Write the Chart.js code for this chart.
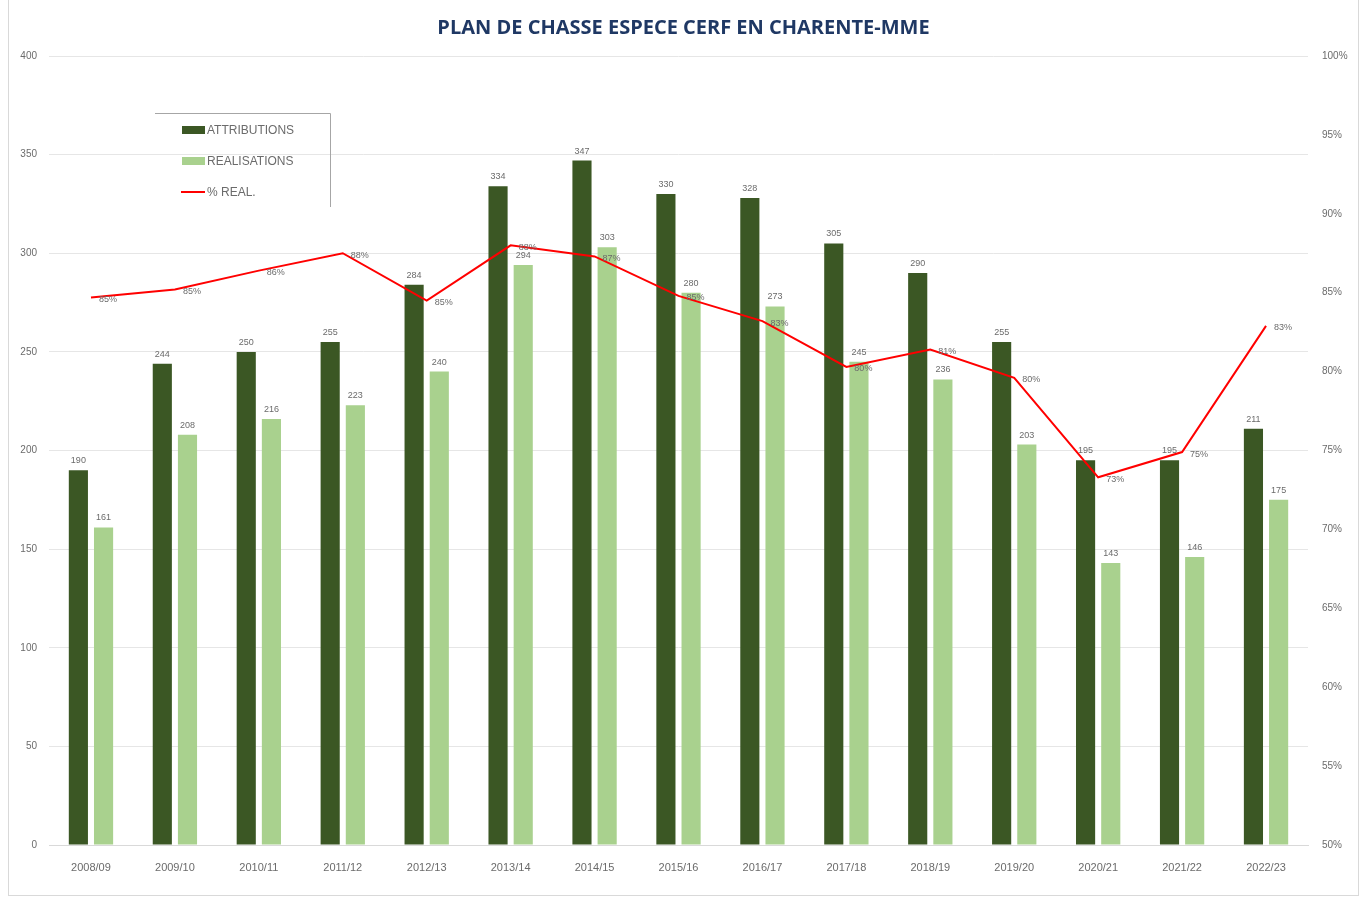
<!DOCTYPE html>
<html>
<head>
<meta charset="utf-8">
<script src="https://cdn.jsdelivr.net/npm/chart.js@4.4.1/dist/chart.umd.min.js"></script>
<style>
  body { margin: 0; background: #fff; }
  #wrap { position: relative; width: 1367px; height: 897px; }
  #frame { position: absolute; left: 8px; top: -1px; width: 1349px; height: 895px; border: 1px solid #d9d9d9; pointer-events: none; }
</style>
</head>
<body>
<div id="wrap">
  <canvas id="cerfChart" width="1367" height="897"></canvas>
  <div id="frame"></div>
</div>
<script>
/* ---------- Plan de chasse cerf, Charente-Maritime ---------- */

var saisons = ["2008/09", "2009/10", "2010/11", "2011/12", "2012/13", "2013/14", "2014/15", "2015/16",
               "2016/17", "2017/18", "2018/19", "2019/20", "2020/21", "2021/22", "2022/23"];

var attributions = [190, 244, 250, 255, 284, 334, 347, 330, 328, 305, 290, 255, 195, 195, 211];
var realisations = [161, 208, 216, 223, 240, 294, 303, 280, 273, 245, 236, 203, 143, 146, 175];
var pctReal = [84.7, 85.2, 86.4, 87.5, 84.5, 88.0, 87.3, 84.8, 83.2, 80.3, 81.4, 79.6, 73.3, 74.9, 82.9];

var grisTexte = "#6b6b6b";

// labels above the bars and next to the line points
var valueLabels = {
  id: "valueLabels",
  afterDatasetsDraw: function(chart) {
    var ctx = chart.ctx;
    ctx.save();
    ctx.font = "9px 'Liberation Sans', Arial, sans-serif";
    ctx.fillStyle = grisTexte;
    chart.data.datasets.forEach(function(ds, i) {
      var meta = chart.getDatasetMeta(i);
      meta.data.forEach(function(el, j) {
        var v = ds.data[j];
        if (ds.type === "line") {
          ctx.textAlign = "left";
          ctx.textBaseline = "middle";
          ctx.fillText(Math.round(v) + "%", el.x + 8, el.y + 2);
        } else {
          ctx.textAlign = "center";
          ctx.textBaseline = "bottom";
          ctx.fillText(v, el.x, el.y - 5);
        }
      });
    });
    ctx.restore();
  }
};

// legend box drawn inside the plot, top left
var legendBox = {
  id: "legendBox",
  afterDraw: function(chart) {
    var ctx = chart.ctx;
    ctx.save();
    ctx.strokeStyle = "#a6a6a6";
    ctx.lineWidth = 1;
    ctx.beginPath();
    ctx.moveTo(155, 113.5);
    ctx.lineTo(330.5, 113.5);
    ctx.lineTo(330.5, 207);
    ctx.stroke();
    ctx.font = "12px 'Liberation Sans', Arial, sans-serif";
    ctx.textBaseline = "middle";
    ctx.textAlign = "left";
    var ys = [130, 161, 192];
    chart.data.datasets.forEach(function(ds, i) {
      var y = ys[i];
      if (ds.type === "line") {
        ctx.strokeStyle = ds.borderColor;
        ctx.lineWidth = 2;
        ctx.beginPath();
        ctx.moveTo(181, y);
        ctx.lineTo(205, y);
        ctx.stroke();
      } else {
        ctx.fillStyle = ds.backgroundColor;
        ctx.fillRect(182, y - 4, 23, 8);
      }
      ctx.fillStyle = grisTexte;
      ctx.fillText(ds.label, 207, y + 1);
    });
    ctx.restore();
  }
};

new Chart("cerfChart", {
  data: {
    labels: saisons,
    datasets: [{
      type: "bar",
      label: "ATTRIBUTIONS",
      data: attributions,
      backgroundColor: "#3b5724",
      yAxisID: "y",
      order: 1,
      categoryPercentage: 0.6,
      barPercentage: 0.76
    }, {
      type: "bar",
      label: "REALISATIONS",
      data: realisations,
      backgroundColor: "#a9d18e",
      yAxisID: "y",
      order: 1,
      categoryPercentage: 0.6,
      barPercentage: 0.76
    }, {
      type: "line",
      label: "% REAL.",
      data: pctReal,
      borderColor: "#ff0000",
      borderWidth: 2,
      pointRadius: 0,
      tension: 0,
      yAxisID: "y1",
      order: 0
    }]
  },
  options: {
    responsive: false,
    animation: false,
    layout: { padding: { top: 0, left: 0, right: 0, bottom: 0 } },
    plugins: {
      legend: { display: false },
      tooltip: { enabled: false },
      title: {
        display: true,
        text: "PLAN DE CHASSE ESPECE CERF EN CHARENTE-MME",
        color: "#1f3864",
        font: { family: "'Open Sans', sans-serif", size: 20, weight: "bold" },
        padding: { top: 16, bottom: 16 }
      }
    },
    scales: {
      x: {
        grid: { display: false },
        border: { color: "#d9d9d9" },
        ticks: { color: grisTexte, font: { size: 11, family: "'Liberation Sans', Arial, sans-serif" }, padding: 8, maxRotation: 0 },
        afterFit: function(s) { s.height = 52; }
      },
      y: {
        position: "left",
        min: 0,
        max: 400,
        ticks: { stepSize: 50, color: grisTexte, font: { size: 10, family: "'Liberation Sans', Arial, sans-serif" }, padding: 12 },
        grid: { color: "#e6e6e6", drawTicks: false },
        border: { display: false },
        afterFit: function(s) { s.width = 49; }
      },
      y1: {
        position: "right",
        min: 50,
        max: 100,
        ticks: {
          stepSize: 5,
          color: grisTexte,
          font: { size: 10, family: "'Liberation Sans', Arial, sans-serif" },
          padding: 14,
          callback: function(v) { return v + "%"; }
        },
        grid: { display: false, drawTicks: false },
        border: { display: false },
        afterFit: function(s) { s.width = 59; }
      }
    }
  },
  plugins: [valueLabels, legendBox]
});
</script>
</body>
</html>
